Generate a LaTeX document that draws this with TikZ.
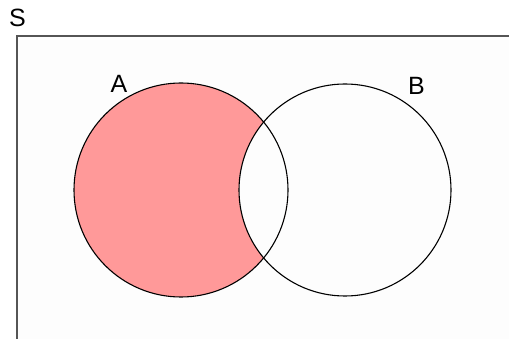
\documentclass[tikz,border=0pt]{standalone}
\usepackage{fontspec}
\setmainfont{Liberation Sans}
\definecolor{setfill}{RGB}{255,153,153}
\definecolor{universe}{RGB}{253,253,253}
\definecolor{frame}{RGB}{85,85,85}
\begin{document}
\begin{tikzpicture}[x=1pt,y=-1pt,
  setcircle/.style={draw=black,line width=1.1pt},
  setlabel/.style={font=\fontsize{25}{28}\selectfont,inner sep=0pt}]
\useasboundingbox (0,0) rectangle (509,339);
\clip (0,0) rectangle (509,339);
% universe S
\draw[frame,fill=universe,line width=1.5pt] (17,36) rectangle (530,360);
\node[setlabel] (S) at (17.5,18) {S};
% A \ B shaded
\fill[setfill] (181,190) circle[radius=107];
\begin{scope}
  \clip (181,190) circle[radius=107];
  \fill[universe] (345,190) circle[radius=106];
\end{scope}
\draw[setcircle] (181,190) circle[radius=107];
\draw[setcircle] (345,190) circle[radius=106];
\node[setlabel] (A) at (119,84) {A};
\node[setlabel] (B) at (416.5,85.5) {B};
\end{tikzpicture}
\end{document}
